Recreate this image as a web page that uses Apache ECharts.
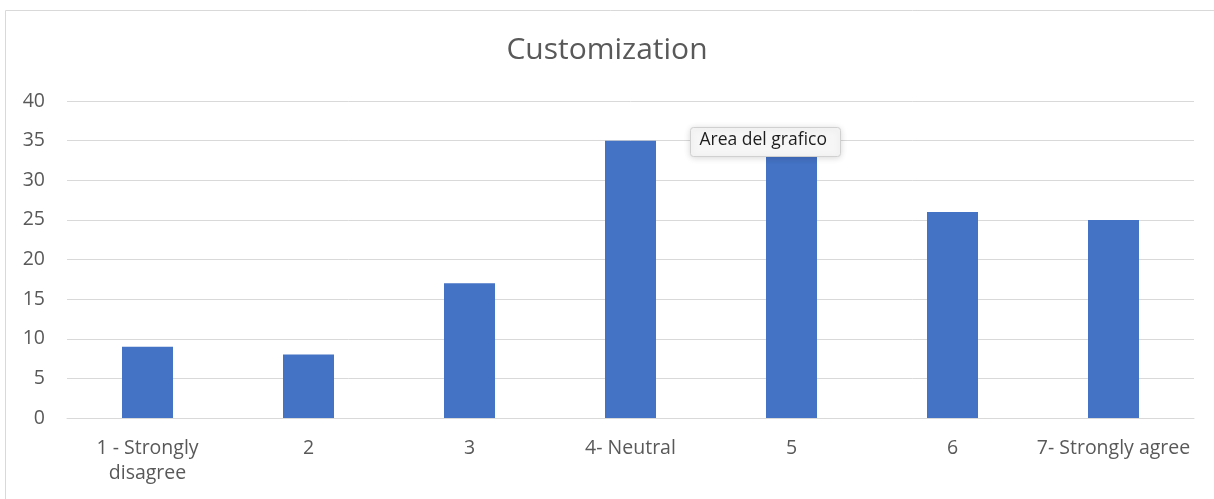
<!DOCTYPE html>
<html>
<head>
<meta charset="utf-8">
<script src="https://cdn.jsdelivr.net/npm/echarts@6/dist/echarts.min.js"></script>
<style>
  html, body { margin: 0; padding: 0; background: #fff; }
  #chart { width: 1214px; height: 499px; }
</style>
</head>
<body>
<div id="chart"></div>
<script>
// Survey responses per rating level
const categories = ['1 - Strongly\ndisagree', '2', '3', '4- Neutral', '5', '6', '7- Strongly agree'];
const counts = [9, 8, 17, 35, 34, 26, 25];
const yTicks = { min: 0, max: 40, interval: 5 };

const font = '"Open Sans", Lato, sans-serif';
const chart = echarts.init(document.getElementById('chart'));

chart.setOption({
  animation: false,
  backgroundColor: '#ffffff',
  title: {
    text: 'Customization',
    left: 'center',
    top: 30,
    textStyle: { fontFamily: font, fontSize: 30, fontWeight: 'normal', color: '#595959' }
  },
  grid: { left: 67, right: 20, top: 101, bottom: 81 },
  xAxis: {
    type: 'category',
    data: categories,
    axisLine: { lineStyle: { color: '#d9d9d9', width: 1 } },
    axisTick: { show: false },
    axisLabel: {
      fontFamily: font, fontSize: 19.5, color: '#595959',
      margin: 18, lineHeight: 25, interval: 0
    }
  },
  yAxis: {
    type: 'value',
    min: yTicks.min,
    max: yTicks.max,
    interval: yTicks.interval,
    axisLine: { show: false },
    axisTick: { show: false },
    splitLine: { lineStyle: { color: '#d9d9d9', width: 1 } },
    axisLabel: { fontFamily: font, fontSize: 19.5, color: '#595959', margin: 22 }
  },
  series: [{
    type: 'bar',
    data: counts,
    barWidth: 51,
    itemStyle: { color: '#4472C4' }
  }],
  graphic: [
    {
      type: 'rect',
      left: 3, top: 8,
      shape: { width: 1220, height: 500 },
      style: { fill: 'none', stroke: '#d9d9d9', lineWidth: 1 },
      silent: true
    },
    {
      type: 'group',
      left: 690, top: 127,
      z: 100,
      children: [
        {
          type: 'rect',
          z: 100,
          shape: { width: 150, height: 29, r: 3 },
          style: {
            fill: '#f6f6f6', stroke: '#d0d0d0', lineWidth: 1,
            shadowBlur: 6, shadowColor: 'rgba(0,0,0,0.15)', shadowOffsetY: 1
          }
        },
        {
          type: 'text',
          z: 101,
          left: 9, top: 4,
          style: { text: 'Area del grafico', fontFamily: font, fontSize: 17.5, fill: '#1e1e1e' }
        }
      ]
    }
  ]
});
</script>
</body>
</html>
